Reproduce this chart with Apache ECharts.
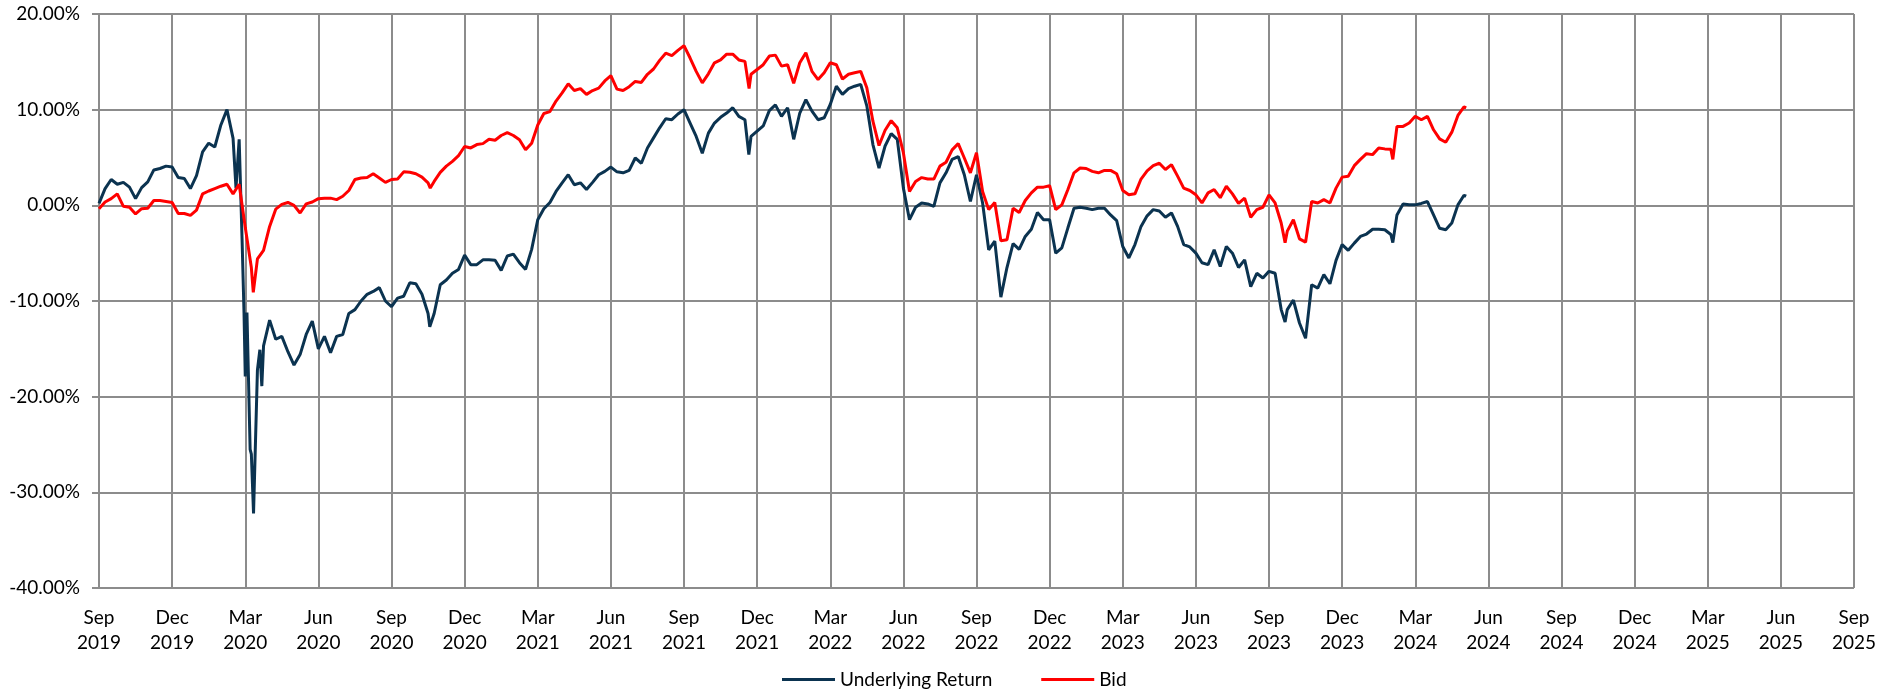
<!DOCTYPE html>
<html>
<head>
<meta charset="utf-8">
<script src="https://cdn.jsdelivr.net/npm/echarts@6/dist/echarts.min.js"></script>
<style>
  html, body { margin: 0; padding: 0; background: #fff; }
  #chart { width: 1892px; height: 691px; }
</style>
</head>
<body>
<div id="chart"></div>
<script>
// x axis runs in months counted from Sep 2019, one tick per quarter
const monthNames = ["Jan", "Feb", "Mar", "Apr", "May", "Jun", "Jul", "Aug", "Sep", "Oct", "Nov", "Dec"];
const startMonth = 8; // Sep
const startYear = 2019;
const step = 0.25; // months between samples

// Underlying Return (%), one row per month, sampled every quarter month
const underlying = [
  0.2, 1.75, 2.7, 2.2,
  2.4, 1.9, 0.7, 1.85,
  2.45, 3.7, 3.85, 4.1,
  4.0, 2.9, 2.8, 1.75,
  3.1, 5.6, 6.5, 6.1,
  8.4, 10.0, 7.0, 6.9,
  -17.9, -26, -17.2, -14.7,
  -12.0, -14.0, -13.7, -15.3,
  -16.7, -15.6, -13.5, -12.1,
  -15.0, -13.7, -15.4, -13.7,
  -13.5, -11.3, -10.9, -10.0,
  -9.3, -9.0, -8.6, -10.0,
  -10.6, -9.7, -9.5, -8.1,
  -8.2, -9.3, -11.3, -11.3,
  -8.3, -7.8, -7.1, -6.7,
  -5.2, -6.2, -6.2, -5.7,
  -5.7, -5.75, -6.8, -5.3,
  -5.1, -6.0, -6.7, -4.6,
  -1.5, -0.35, 0.3, 1.45,
  2.35, 3.2, 2.15, 2.35,
  1.65, 2.4, 3.2, 3.55,
  4.0, 3.5, 3.4, 3.65,
  4.95, 4.4, 6.0, 7.05,
  8.1, 9.05, 8.95, 9.55,
  10.0, 8.6, 7.2, 5.45,
  7.55, 8.6, 9.2, 9.65,
  10.2, 9.3, 8.95, 7.2,
  7.75, 8.3, 9.9, 10.5,
  9.3, 10.2, 6.9, 9.65,
  11.05, 9.85, 8.95, 9.15,
  10.55, 12.45, 11.6, 12.2,
  12.45, 12.65, 10.4, 6.35,
  3.9, 6.2, 7.5, 6.9,
  1.8, -1.5, -0.2, 0.25,
  0.15, -0.1, 2.35, 3.4,
  4.8, 5.1, 3.2, 0.4,
  3.2, 0.25, -4.65, -3.75,
  -9.6, -6.5, -4.0, -4.6,
  -3.25, -2.5, -0.75, -1.5,
  -1.5, -5.0, -4.45, -2.35,
  -0.3, -0.2, -0.3, -0.45,
  -0.3, -0.3, -1.0, -1.6,
  -4.3, -5.5, -4.1, -2.2,
  -1.1, -0.45, -0.6, -1.25,
  -0.8, -2.2, -4.1, -4.35,
  -5.0, -6.0, -6.2, -4.65,
  -6.4, -4.3, -5.0, -6.5,
  -5.7, -8.5, -7.1, -7.6,
  -6.9, -7.1, -10.9, -10.9,
  -9.9, -12.3, -13.9, -8.3,
  -8.65, -7.25, -8.2, -5.75,
  -4.1, -4.7, -3.95, -3.25,
  -3.0, -2.5, -2.5, -2.55,
  -3.05, -1.0, 0.15, 0.05,
  0.05, 0.2, 0.4, -1.0,
  -2.4, -2.55, -1.85, 0.05,
  1.05
];
// spikes between the regular samples: [month, value]
const underlyingExtra = [
  [5.62, 1.8], [5.87, -3.6], [5.95, -11.3], [6.07, -11.2], [6.2, -25.5],
  [6.34, -32.2], [6.6, -15.1], [6.68, -18.9], [13.57, -12.7], [26.66, 5.3],
  [48.66, -12.2], [53.08, -3.9], [56.09, 0.95]
];

// Bid (%)
const bid = [
  -0.35, 0.35, 0.7, 1.2,
  -0.1, -0.2, -0.9, -0.35,
  -0.3, 0.5, 0.5, 0.4,
  0.3, -0.85, -0.85, -1.05,
  -0.5, 1.2, 1.5, 1.75,
  2.0, 2.2, 1.2, 2.2,
  -2.3, -6.5, -5.6, -4.7,
  -2.2, -0.4, 0.1, 0.3,
  0.0, -0.8, 0.15, 0.35,
  0.7, 0.75, 0.75, 0.6,
  0.95, 1.55, 2.7, 2.85,
  2.9, 3.3, 2.85, 2.4,
  2.7, 2.75, 3.5, 3.45,
  3.3, 2.95, 2.35, 2.5,
  3.45, 4.1, 4.6, 5.2,
  6.15, 6.0, 6.35, 6.45,
  6.9, 6.8, 7.3, 7.6,
  7.3, 6.85, 5.8, 6.5,
  8.4, 9.6, 9.8, 10.9,
  11.75, 12.7, 12.0, 12.2,
  11.6, 12.0, 12.25, 13.0,
  13.55, 12.15, 12.0, 12.4,
  12.95, 12.85, 13.7, 14.25,
  15.15, 15.9, 15.65, 16.2,
  16.7, 15.4, 14.0, 12.8,
  13.75, 14.9, 15.2, 15.8,
  15.8, 15.2, 15.05, 13.7,
  14.2, 14.7, 15.6, 15.7,
  14.55, 14.7, 12.75, 14.9,
  15.95, 14.0, 13.15, 13.85,
  14.9, 14.7, 13.2, 13.7,
  13.85, 14.0, 12.3, 8.8,
  6.25, 7.85, 8.85, 8.1,
  5.5, 1.45, 2.5, 2.9,
  2.75, 2.75, 4.1, 4.5,
  5.8, 6.45, 4.95, 3.4,
  5.5, 1.45, -0.45, 0.3,
  -3.7, -3.6, -0.3, -0.75,
  0.5, 1.3, 1.9, 1.9,
  2.05, -0.45, 0.05, 1.65,
  3.4, 3.9, 3.85, 3.55,
  3.4, 3.65, 3.65, 3.3,
  1.55, 1.1, 1.2, 2.75,
  3.6, 4.15, 4.4, 3.75,
  4.25, 3.05, 1.8, 1.55,
  1.1, 0.25, 1.3, 1.65,
  0.8, 2.0, 1.2, 0.2,
  0.75, -1.25, -0.45, -0.2,
  1.1, 0.25, -1.85, -2.7,
  -1.5, -3.5, -3.85, 0.4,
  0.25, 0.6, 0.25, 1.8,
  2.95, 3.05, 4.15, 4.8,
  5.4, 5.3, 6.0, 5.9,
  5.85, 8.25, 8.25, 8.6,
  9.3, 8.95, 9.3, 7.9,
  6.95, 6.6, 7.65, 9.4,
  10.3
];
const bidExtra = [
  [6.33, -9.1], [13.59, 1.8], [26.67, 12.2], [48.66, -3.9], [53.08, 4.8], [56.09, 10.2]
];

function buildSeries(vals, extra) {
  const pts = vals.map((v, i) => [i * step, v]);
  return pts.concat(extra).sort((a, b) => a[0] - b[0]);
}

const gridColor = "#8c8c8c";
const fontFamily = "Lato, 'Open Sans', sans-serif";

const chart = echarts.init(document.getElementById("chart"));
chart.setOption({
  animation: false,
  backgroundColor: "#fff",
  color: ["#0b3350", "#ff0000"],
  grid: { left: 99, right: 38, top: 14, bottom: 103 },
  legend: {
    left: 777,
    top: 665,
    itemWidth: 53,
    itemHeight: 3,
    itemGap: 49,
    icon: "rect",
    textStyle: { color: "#000", fontSize: 19, fontFamily: fontFamily, padding: [0, 0, 0, 0] },
    data: ["Underlying Return", "Bid"]
  },
  xAxis: {
    type: "value",
    min: 0,
    max: 72,
    interval: 3,
    axisLine: { lineStyle: { color: gridColor, width: 2 } },
    axisTick: { show: false },
    splitLine: { show: true, lineStyle: { color: gridColor, width: 2 } },
    axisLabel: {
      color: "#000",
      fontSize: 19,
      fontFamily: fontFamily,
      lineHeight: 25,
      margin: 17,
      formatter: function (v) {
        const idx = startMonth + v;
        return monthNames[idx % 12] + "\n" + (startYear + Math.floor(idx / 12));
      }
    }
  },
  yAxis: {
    type: "value",
    min: -40,
    max: 20,
    interval: 10,
    axisLine: { show: true, lineStyle: { color: gridColor, width: 2 } },
    axisTick: { show: true, length: 7, lineStyle: { color: gridColor, width: 2 } },
    splitLine: { show: true, lineStyle: { color: gridColor, width: 2 } },
    axisLabel: {
      color: "#000",
      fontSize: 19,
      fontFamily: fontFamily,
      margin: 19,
      formatter: function (v) {
        return v.toFixed(2) + "%";
      }
    }
  },
  series: [
    {
      name: "Underlying Return",
      type: "line",
      showSymbol: false,
      lineStyle: { width: 3 },
      data: buildSeries(underlying, underlyingExtra)
    },
    {
      name: "Bid",
      type: "line",
      showSymbol: false,
      lineStyle: { width: 3 },
      data: buildSeries(bid, bidExtra)
    }
  ]
});
</script>
</body>
</html>
